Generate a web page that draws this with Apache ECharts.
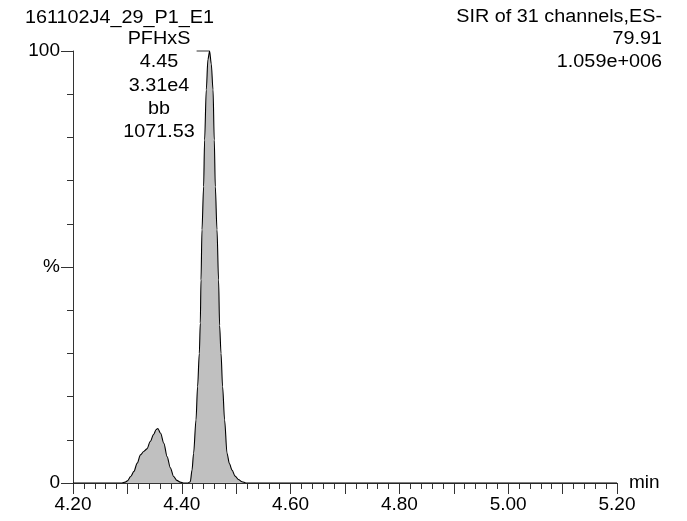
<!DOCTYPE html>
<html>
<head>
<meta charset="utf-8">
<script src="https://cdn.jsdelivr.net/npm/echarts@6/dist/echarts.min.js"></script>
<style>
html,body{margin:0;padding:0;background:#fff;}
#c{width:687px;height:521px;}
</style>
</head>
<body>
<div id="c"></div>
<script>
// Retention times (min) and relative intensity (%)
const times = [
  4.200, 4.290, 4.296, 4.300, 4.306, 4.312, 4.318, 4.324, 4.330, 4.336, 4.342, 4.348, 4.353, 4.356,
  4.361, 4.367, 4.373, 4.379, 4.385, 4.391, 4.397, 4.403, 4.411,
  4.4156, 4.4188, 4.4217, 4.4261, 4.4290, 4.4322, 4.4340, 4.4353, 4.4371, 4.4401, 4.4419, 4.4450, 4.4480, 4.4511,
  4.4542, 4.4574, 4.4597, 4.4616, 4.4647, 4.4676, 4.4695, 4.4721, 4.4750, 4.4787, 4.4831, 4.4875, 4.4923,
  4.4980, 4.5040, 4.5107, 4.5180, 5.200
];
const intensity = [
  0, 0, 0.2, 0.5, 1.5, 2.7, 4.6, 6.5, 7.3, 7.9, 9.6, 11.2, 12.4, 12.6,
  11.5, 9.2, 6.1, 3.5, 1.5, 0.6, 0.2, 0, 0,
  0.3, 3, 6.9, 14.6, 22.3, 30, 37, 47, 58.6, 68.6, 79.4, 91, 98, 100,
  97, 91, 79.4, 68.6, 58.6, 47, 36.5, 30, 22.3, 14.6, 6.9, 4.5, 3,
  1.6, 0.8, 0.3, 0, 0
];
const xTickLabels = ['4.20', '4.40', '4.60', '4.80', '5.00', '5.20'];
const yTickLabels = {0: '0', 50: '%', 100: '100'};
const headerLeft = '161102J4_29_P1_E1';
const headerRight = ['SIR of 31 channels,ES-', '79.91', '1.059e+006'];
const peakLabel = ['PFHxS', '4.45', '3.31e4', 'bb', '1071.53'];
const peakTime = 4.4511, peakValue = 100;

const FONT = '"Liberation Sans", Arial, Helvetica, sans-serif';
const AFS = 19;
const TFS = 18;
const SX = 1.1;
const chart = echarts.init(document.getElementById('c'));
const data = times.map((t, i) => [t, intensity[i]]);

const yBase = {
  type: 'value', min: 0, max: 100, position: 'left',
  splitLine: {show: false}
};

const option = {
  animation: false,
  backgroundColor: '#fff',
  grid: {left: 73, right: 70, top: 51, bottom: 38},
  xAxis: {
    type: 'value', min: 4.2, max: 5.2, interval: 0.1,
    splitLine: {show: false},
    axisLine: {show: true, onZero: false, lineStyle: {color: '#333', width: 1}},
    axisTick: {show: true, inside: false, length: 11, lineStyle: {color: '#333'}},
    minorTick: {show: true, splitNumber: 5, length: 6, lineStyle: {color: '#333'}},
    axisLabel: {
      show: true, color: '#000', fontFamily: FONT, fontSize: AFS, margin: 12,
      showMinLabel: true, showMaxLabel: true,
      formatter: v => { const s = v.toFixed(2); return xTickLabels.indexOf(s) >= 0 ? s : ''; }
    },
    name: 'min', nameLocation: 'end', nameGap: 12,
    nameTextStyle: {color: '#000', fontFamily: FONT, fontSize: AFS, verticalAlign: 'middle'}
  },
  yAxis: [
    Object.assign({}, yBase, {
      interval: 10,
      axisLine: {show: true, lineStyle: {color: '#333', width: 1}},
      axisTick: {show: true, inside: false, length: 6, lineStyle: {color: '#333'}},
      axisLabel: {show: false}
    }),
    Object.assign({}, yBase, {
      interval: 50,
      axisLine: {show: false},
      axisTick: {show: true, inside: false, length: 12, lineStyle: {color: '#333'}},
      axisLabel: {
        show: true, color: '#000', fontFamily: FONT, fontSize: AFS, margin: 13,
        formatter: v => (yTickLabels[Math.round(v)] !== undefined ? yTickLabels[Math.round(v)] : '')
      }
    })
  ],
  series: [{
    type: 'line', data: data, showSymbol: false, symbol: 'none',
    smooth: 0.3, smoothMonotone: 'x',
    lineStyle: {color: '#000', width: 1.1},
    areaStyle: {color: '#c0c0c0', opacity: 1},
    z: 1
  }]
};
chart.setOption(option);

const p = chart.convertToPixel({seriesIndex: 0}, [peakTime, peakValue]);
const font = TFS + 'px ' + FONT;
const g = [];
g.push({type: 'text', x: 25, y: 18, scaleX: SX,
  style: {text: headerLeft, font: font, fill: '#000', textAlign: 'left', textVerticalAlign: 'middle'}});
headerRight.forEach((s, i) => {
  g.push({type: 'text', x: 662, y: 17 + i * 22.5, scaleX: SX,
    style: {text: s, font: font, fill: '#000', textAlign: 'right', textVerticalAlign: 'middle'}});
});
peakLabel.forEach((s, i) => {
  g.push({type: 'text', x: 159, y: 39 + i * 23.3, scaleX: SX,
    style: {text: s, font: font, fill: '#000', textAlign: 'center', textVerticalAlign: 'middle'}});
});
g.push({type: 'line', shape: {x1: p[0] - 13, y1: p[1], x2: p[0], y2: p[1]}, style: {stroke: '#333', lineWidth: 1}});
chart.setOption({graphic: g});
</script>
</body>
</html>
